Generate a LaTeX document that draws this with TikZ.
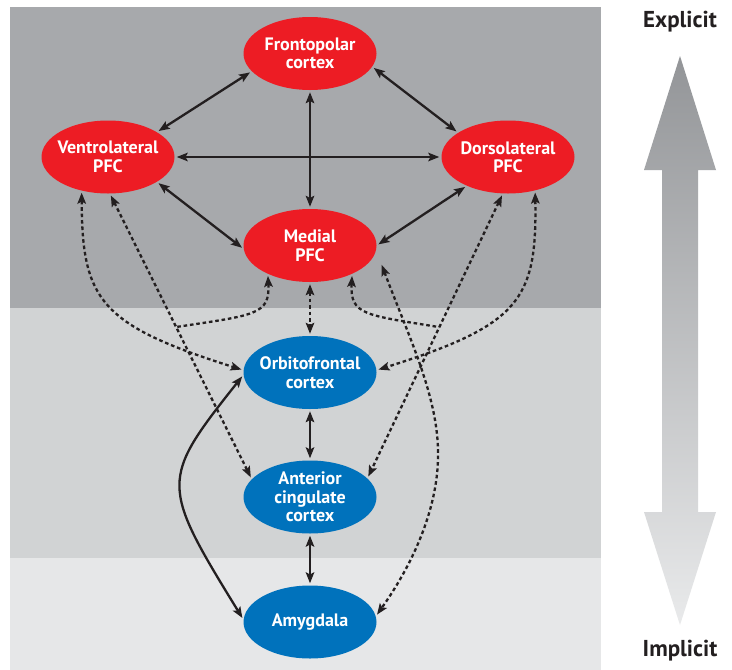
\documentclass[tikz,border=0pt]{standalone}
\usepackage{fontspec}
\setmainfont{PT Sans}
\usetikzlibrary{arrows.meta,shapes.geometric,calc}
\definecolor{bandA}{HTML}{A7A9AC}
\definecolor{bandB}{HTML}{D1D3D4}
\definecolor{bandC}{HTML}{E6E7E8}
\definecolor{pfcred}{HTML}{ED1C24}
\definecolor{subblue}{HTML}{0072BC}
\definecolor{ink}{HTML}{231F20}
\definecolor{arrtop}{HTML}{939598}
\definecolor{arrbot}{HTML}{E9EAEB}
\tikzset{
  tipA/.tip={Stealth[length=11pt,width=8.5pt,inset=2.2pt]},
  region/.style={ellipse, minimum width=133pt, minimum height=73pt, inner sep=0pt, draw=none, fill=#1},
  lbl/.style={text=white, font=\fontsize{18}{18.5}\selectfont\bfseries, align=center, inner sep=0pt},
  side/.style={text=ink, font=\fontsize{23}{25}\selectfont\bfseries, inner sep=0pt},
  conn/.style={line width=2.3pt, draw=ink, tipA-tipA, shorten <=2pt, shorten >=2pt},
  dconn/.style={conn, dash pattern=on 3.6pt off 2.8pt},
  bconn/.style={line width=2.3pt, draw=ink, tipA-, shorten <=2pt, dash pattern=on 3.6pt off 2.8pt},
}
\begin{document}
\begin{tikzpicture}[x=1pt,y=-1pt]
\useasboundingbox (0,0) rectangle (732,670);
% background bands
\fill[white] (0,0) rectangle (732,670);
\fill[bandA] (10,7) rectangle (601,308);
\fill[bandB] (10,308) rectangle (601,558);
\fill[bandC] (10,558) rectangle (601,670);
% gradient double arrow
\shade[top color=arrtop, bottom color=arrbot]
  (680,56) -- (716,170) -- (698,170) -- (698,512) -- (716,512) -- (680,625)
  -- (644,512) -- (662,512) -- (662,170) -- (644,170) -- cycle;
\node[side] (expl) at (680,22) {Explicit};
\node[side] (impl) at (680,651) {Implicit};
% regions
\node[region=pfcred] (fp) at (310,53.5) {};
\node[region=pfcred] (vl) at (108,157) {};
\node[region=pfcred] (dl) at (508,157) {};
\node[region=pfcred] (mpfc) at (310,245.5) {};
\node[region=subblue] (of) at (310,372.5) {};
\node[region=subblue] (acc) at (310,497) {};
\node[region=subblue] (amy) at (310,622) {};
\node[lbl] (fpt) at (fp) {Frontopolar\\cortex};
\node[lbl] (vlt) at (vl) {Ventrolateral\\PFC};
\node[lbl] (dlt) at (dl) {Dorsolateral\\PFC};
\node[lbl] (mpfct) at (mpfc) {Medial\\PFC};
\node[lbl] (oft) at (of) {Orbitofrontal\\cortex};
\node[lbl] (acct) at (acc) {Anterior\\cingulate\\cortex};
\node[lbl] (amyt) at (amy) {Amygdala};
% solid connectors
\draw[conn] (vl.27) -- (fp.197);
\draw[conn] (fp.348) -- (dl.154);
\draw[conn] (fp.south) -- (mpfc.north);
\draw[conn] (vl.east) -- (dl.west);
\draw[conn] (vl.333) -- (mpfc.183);
\draw[conn] (dl.215) -- (mpfc.east);
\draw[conn] (of.south) -- (acc.north);
\draw[conn] (acc.south) -- (amy.north);
\draw[conn] (of.182) .. controls (160,480) and (160,484) .. (amy.178);
% dashed connectors
\coordinate (j1) at ($(vl.273)!0.467!(acc.163)$);
\coordinate (j2) at ($(dl.262)!0.469!(acc.18)$);
\coordinate (mtip) at (381,263);
\draw[dconn] (vl.232) .. controls (82,300) and (100,325) .. (of.178);
\draw[dconn] (vl.273) -- (acc.163);
\draw[bconn] (mpfc.214) .. controls (270,315) and (255,315) .. (j1);
\draw[dconn] (mpfc.south) -- (of.north);
\draw[bconn] (mpfc.326) .. controls (350,315) and (365,315) .. (j2);
\draw[dconn] (dl.262) -- (acc.18);
\draw[dconn] (dl.309) .. controls (537,300) and (520,325) .. (of.2);
\draw[dconn] (mtip) .. controls (410,340) and (440,400) .. (438,460)
  .. controls (436,520) and (405,575) .. (amy.5);
\end{tikzpicture}
\end{document}
